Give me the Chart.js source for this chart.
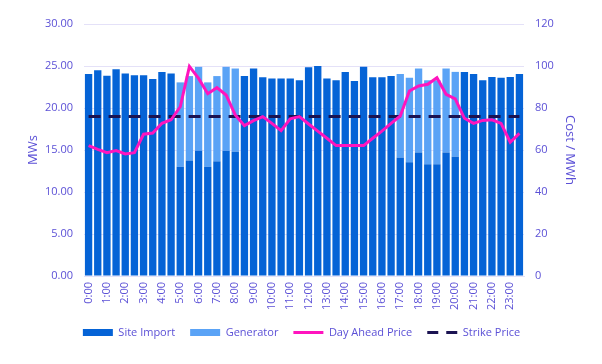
<!DOCTYPE html>
<html>
<head>
<meta charset="utf-8">
<script src="https://cdn.jsdelivr.net/npm/chart.js@4.4.1/dist/chart.umd.min.js"></script>
<style>
  html, body { margin: 0; padding: 0; background: #fff; }
  #wrap { width: 602px; height: 364px; }
</style>
</head>
<body>
<div id="wrap"><canvas id="energyChart"></canvas></div>
<script>
// Half-hourly periods
const periods = [
    '0:00', '0:30', '1:00', '1:30', '2:00', '2:30', '3:00', '3:30',
    '4:00', '4:30', '5:00', '5:30', '6:00', '6:30', '7:00', '7:30',
    '8:00', '8:30', '9:00', '9:30', '10:00', '10:30', '11:00', '11:30',
    '12:00', '12:30', '13:00', '13:30', '14:00', '14:30', '15:00', '15:30',
    '16:00', '16:30', '17:00', '17:30', '18:00', '18:30', '19:00', '19:30',
    '20:00', '20:30', '21:00', '21:30', '22:00', '22:30', '23:00', '23:30'
];

// MWs
const siteImport = [
    24.05, 24.5, 23.85, 24.6, 24.1, 23.9, 23.9, 23.45,
    24.3, 24.1, 13.0, 13.75, 14.9, 13.0, 13.65, 14.9,
    14.8, 23.8, 24.7, 23.65, 23.5, 23.5, 23.5, 23.3,
    24.85, 25.0, 23.5, 23.3, 24.3, 23.2, 24.9, 23.65,
    23.65, 23.8, 14.1, 13.55, 14.7, 13.3, 13.3, 14.7,
    14.2, 24.3, 24.05, 23.3, 23.7, 23.6, 23.7, 24.05
];
const generator = [
    0, 0, 0, 0, 0, 0, 0, 0,
    0, 0, 10.05, 10.05, 10.0, 10.05, 10.15, 10.0,
    9.9, 0, 0, 0, 0, 0, 0, 0,
    0, 0, 0, 0, 0, 0, 0, 0,
    0, 0, 9.95, 10.05, 10.0, 10.0, 10.0, 10.0,
    10.1, 0, 0, 0, 0, 0, 0, 0
];

// Cost / MWh
const dayAheadPrice = [
    62.1, 60.3, 58.7, 59.7, 58.1, 58.7, 67.5, 68.1,
    72.7, 74.4, 80.6, 99.8, 94.1, 86.8, 89.7, 86.2,
    76.7, 71.6, 74.0, 75.9, 72.7, 69.2, 74.8, 75.9,
    72.4, 69.0, 65.6, 62.1, 62.1, 62.1, 62.1, 65.6,
    69.0, 72.7, 76.2, 88.1, 90.5, 91.3, 94.4, 86.5,
    84.3, 75.1, 72.7, 74.1, 74.4, 72.7, 63.7, 67.9
];
const strikePrice = [
    76, 76, 76, 76, 76, 76, 76, 76, 76, 76, 76, 76, 76, 76, 76, 76,
    76, 76, 76, 76, 76, 76, 76, 76, 76, 76, 76, 76, 76, 76, 76, 76,
    76, 76, 76, 76, 76, 76, 76, 76, 76, 76, 76, 76, 76, 76, 76, 76
];

const leftTicks = [0, 5, 10, 15, 20, 25, 30];
const rightTicks = [0, 20, 40, 60, 80, 100, 120];

const textColor = '#5b50d6';
const gridColor = '#e4e1f8';

Chart.defaults.font.family = "'Open Sans', 'Noto Sans', sans-serif";
Chart.defaults.font.size = 11;
Chart.defaults.color = textColor;

// legend: filled boxes for bars, (dashed) strokes for lines
function buildLegendLabels(chart) {
    const items = Chart.defaults.plugins.legend.labels.generateLabels(chart);
    items.forEach(item => {
        const ds = chart.data.datasets[item.datasetIndex];
        if (ds.type === 'line') {
            item.strokeStyle = ds.borderColor;
            item.lineWidth = 3;
            item.lineDash = ds.borderDash ? [11, 8] : [];
        } else {
            item.lineWidth = 0;
        }
    });
    return items;
}

const ctx = document.getElementById('energyChart').getContext('2d');

const energyChart = new Chart(ctx, {
    type: 'bar',
    data: {
        labels: periods,
        datasets: [{
            label: 'Site Import',
            data: siteImport,
            backgroundColor: '#0563d6',
            pointStyle: 'rect',
            yAxisID: 'y',
            order: 1
        }, {
            label: 'Generator',
            data: generator,
            backgroundColor: '#5aa3f6',
            pointStyle: 'rect',
            yAxisID: 'y',
            order: 1
        }, {
            type: 'line',
            label: 'Day Ahead Price',
            data: dayAheadPrice,
            borderColor: '#ff14be',
            backgroundColor: '#ff14be',
            borderWidth: 3,
            pointRadius: 0,
            pointStyle: 'line',
            tension: 0,
            yAxisID: 'y1',
            order: 0
        }, {
            type: 'line',
            label: 'Strike Price',
            data: strikePrice,
            borderColor: '#1b1352',
            backgroundColor: '#1b1352',
            borderWidth: 3,
            borderDash: [12, 8],
            pointRadius: 0,
            pointStyle: 'line',
            yAxisID: 'y1',
            order: 0
        }]
    },
    options: {
        responsive: true,
        maintainAspectRatio: false,
        animation: false,
        layout: {
            padding: { left: 21, right: 20, top: 24, bottom: 16 }
        },
        datasets: {
            bar: {
                categoryPercentage: 0.8,
                barPercentage: 1.0
            }
        },
        plugins: {
            tooltip: { enabled: false },
            legend: {
                display: true,
                position: 'bottom',
                labels: {
                    usePointStyle: true,
                    pointStyleWidth: 30,
                    boxHeight: 7,
                    padding: 15,
                    color: textColor,
                    font: { size: 11 },
                    generateLabels: buildLegendLabels,
                    sort: (a, b) => a.datasetIndex - b.datasetIndex
                }
            }
        },
        scales: {
            x: {
                stacked: true,
                grid: { display: false, drawTicks: false },
                border: { color: gridColor },
                afterFit: scale => { scale.height = 36; },
                ticks: {
                    autoSkip: false,
                    minRotation: 90,
                    maxRotation: 90,
                    padding: 6,
                    callback: function(value, index) {
                        return index % 2 === 0 ? periods[index] : '';
                    }
                }
            },
            y: {
                stacked: true,
                position: 'left',
                min: leftTicks[0],
                max: leftTicks[leftTicks.length - 1],
                afterFit: scale => { scale.width = 63; },
                title: {
                    display: true,
                    text: 'MWs',
                    color: textColor,
                    font: { size: 13 },
                    padding: { top: 4, bottom: 0 }
                },
                grid: { color: gridColor, drawTicks: false },
                border: { display: false },
                ticks: {
                    stepSize: 5,
                    padding: 11,
                    callback: value => value.toFixed(2)
                }
            },
            y1: {
                position: 'right',
                min: rightTicks[0],
                max: rightTicks[rightTicks.length - 1],
                afterFit: scale => { scale.width = 58; },
                title: {
                    display: true,
                    text: 'Cost / MWh',
                    color: textColor,
                    font: { size: 13 },
                    padding: { top: 4, bottom: 0 }
                },
                grid: { display: false, drawTicks: false },
                border: { display: false },
                ticks: {
                    stepSize: 20,
                    padding: 11
                }
            }
        }
    }
});
</script>
</body>
</html>
